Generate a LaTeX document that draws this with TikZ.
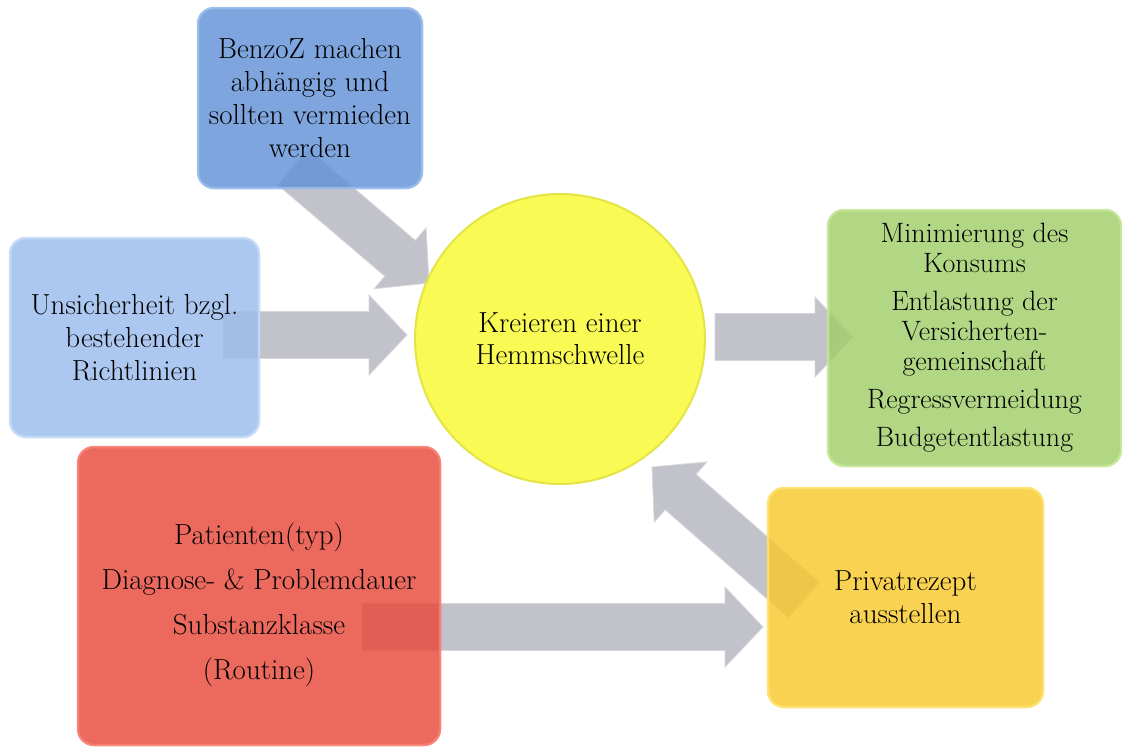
\documentclass[tikz,border=0pt]{standalone}
\usetikzlibrary{calc}
\definecolor{bzF}{RGB}{98,146,214}
\definecolor{bzE}{RGB}{150,188,236}
\definecolor{usF}{RGB}{155,188,237}
\definecolor{usE}{RGB}{196,218,248}
\definecolor{yelF}{RGB}{250,250,70}
\definecolor{yelE}{RGB}{228,228,70}
\definecolor{grF}{RGB}{161,207,106}
\definecolor{grE}{RGB}{198,230,150}
\definecolor{rdF}{RGB}{232,73,59}
\definecolor{rdE}{RGB}{246,128,114}
\definecolor{orF}{RGB}{250,201,44}
\definecolor{orE}{RGB}{253,226,110}
\definecolor{arF}{RGB}{194,194,202}
\definecolor{arE}{RGB}{214,214,222}
\tikzset{
  box/.style={rounded corners=16pt, line width=2.5pt, align=center,
    font=\fontsize{29}{33}\selectfont, inner sep=4pt,
    fill opacity=0.82, draw opacity=0.9, text opacity=1},
  txt/.style={align=center, font=\fontsize{29}{33}\selectfont, inner sep=0pt},
  garrow/.style={fill=arF, draw=arE, line width=0.8pt, line join=miter},
}
\newcommand\blockarrow[2]{%
  \coordinate (hb) at ($(#2)!38pt!(#1)$);
  \filldraw[garrow] ($(#1)!23.5pt!90:(#2)$) -- ($(hb)!23.5pt!90:(#2)$) --
    ($(hb)!40pt!90:(#2)$) -- (#2) -- ($(hb)!40pt!-90:(#2)$) --
    ($(hb)!23.5pt!-90:(#2)$) -- ($(#1)!23.5pt!-90:(#2)$) -- cycle;}
\begin{document}
\begin{tikzpicture}[x=1pt,y=-1pt]
\useasboundingbox (0,0) rectangle (1122,747);
\fill[white] (0,0) rectangle (1122,747);

% arrow end points
\coordinate (a1t) at (293,167);  \coordinate (a1h) at (429,283);
\coordinate (a2t) at (223,335);  \coordinate (a2h) at (407,335);
\coordinate (a3t) at (715,337);  \coordinate (a3h) at (853,337);
\coordinate (a4t) at (362,627);  \coordinate (a4h) at (763,627);
\coordinate (a5t) at (804,600);  \coordinate (a5h) at (652,467);

\blockarrow{a1t}{a1h}
\blockarrow{a2t}{a2h}
\blockarrow{a3t}{a3h}
\blockarrow{a4t}{a4h}
\blockarrow{a5t}{a5h}

\node[box, fill=bzF, draw=bzE, minimum width=224pt, minimum height=180pt] (bz) at (310,98)
  {BenzoZ machen\\abhängig und\\sollten vermieden\\werden};
\node[box, fill=usF, draw=usE, minimum width=249pt, minimum height=199pt] (us) at (134.5,337.5)
  {Unsicherheit bzgl.\\bestehender\\Richtlinien};
\node[circle, fill=yelF, draw=yelE, line width=2pt, minimum size=290pt, align=center,
  fill opacity=0.92, text opacity=1,
  font=\fontsize{29}{32}\selectfont] (hs) at (560,339) {Kreieren einer\\Hemmschwelle};
\node[box, fill=grF, draw=grE, minimum width=293pt, minimum height=256pt,
  font=\fontsize{28}{30}\selectfont] (gr) at (974.5,338)
  {Minimierung des\\Konsums\\[8pt]Entlastung der\\Versicherten-\\gemeinschaft\\[8pt]Regressvermeidung\\[8pt]Budgetentlastung};
\node[box, fill=rdF, draw=rdE, minimum width=362pt, minimum height=298pt] (rd) at (259,596) {};
\node[txt] (rdtext) at ($(rd.center)+(0,9)$)
  {Patienten(typ)\\[12pt]Diagnose- \& Problemdauer\\[12pt]Substanzklasse\\[12pt](Routine)};
\node[box, fill=orF, draw=orE, minimum width=275pt, minimum height=219pt] (pr) at (905.5,597.5)
  {Privatrezept\\ausstellen};
\end{tikzpicture}
\end{document}
